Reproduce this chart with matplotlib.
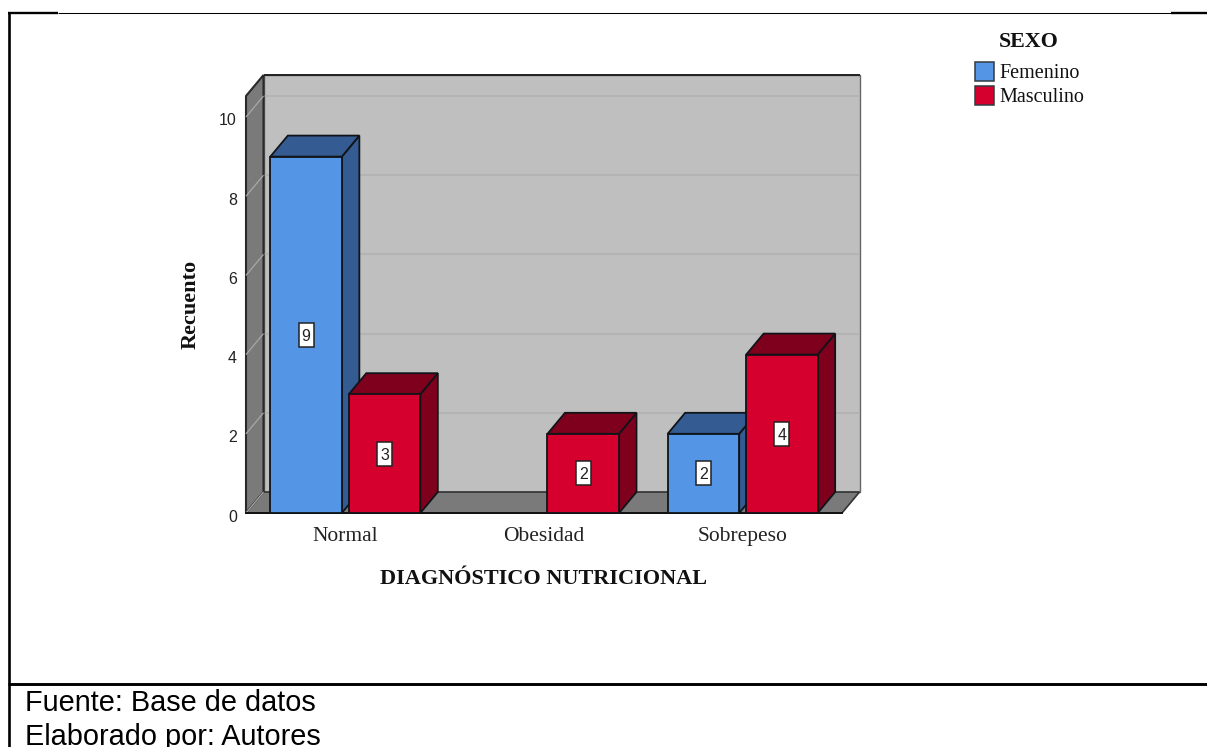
import matplotlib
matplotlib.use("Agg")
import matplotlib.pyplot as plt
from matplotlib.patches import Polygon, Rectangle
from matplotlib.lines import Line2D
from matplotlib.transforms import Affine2D

# Data
categories = ["Normal", "Obesidad", "Sobrepeso"]
femenino = [9, 0, 2]
masculino = [3, 2, 4]
y_ticks = [0, 2, 4, 6, 8, 10]
legend_labels = ["Femenino", "Masculino"]

W, H = 1207, 747
SERIF = "Liberation Serif"
SANS = "Liberation Sans"
BLUE, BLUE_DK = "#5495e6", "#345c92"
RED, RED_DK = "#d6002f", "#7e001c"
EDGE = "#101418"

fig = plt.figure(figsize=(W / 100, H / 100), dpi=100, facecolor="white")

# Plot box of the front plane, in figure pixels
left, right, top, bottom = 246, 842, 96, 513
ax = fig.add_axes([left / W, 1 - bottom / H, (right - left) / W, (bottom - top) / H])
ax.set_xlim(-0.5, 2.5)
ax.set_ylim(0, (bottom - top) / 39.6)
ax.axis("off")

DX, DY = 17.5, 21.0   # depth offset of the box, in pixels
back = ax.transData + Affine2D().translate(DX, DY)
x0, x1 = ax.get_xlim()
y0, y1 = ax.get_ylim()


def poly(points, color, edge=EDGE, lw=1.2, z=1):
    """Add a polygon given as (x, y, is_back) corners."""
    verts = [(back if b else ax.transData).transform((x, y)) for x, y, b in points]
    ax.add_patch(Polygon(verts, closed=True, transform=None, facecolor=color,
                         edgecolor=edge, linewidth=lw, clip_on=False, zorder=z,
                         joinstyle="miter"))


def seg(p0, p1, color, lw, z):
    ax.add_line(Line2D([p0[0], p1[0]], [p0[1], p1[1]], transform=None, color=color, lw=lw,
                       zorder=z, clip_on=False, solid_capstyle="butt"))


# Walls and floor
poly([(x0, y0, 1), (x1, y0, 1), (x1, y1, 1), (x0, y1, 1)], "#bfbfbf", edge="#666666", lw=1.0, z=1)
seg(back.transform((x0, y1)), back.transform((x1, y1)), "#222222", 1.4, 1.6)

# Gridlines on the back wall and side wall
for v in y_ticks[1:]:
    seg(back.transform((x0, v)), back.transform((x1, v)), "#b0b0b0", 1.1, 1.5)

poly([(x0, y0, 0), (x0, y0, 1), (x0, y1, 1), (x0, y1, 0)], "#7a7a7a", edge="#2a2a2a", lw=1.5, z=2)
poly([(x0, y0, 0), (x1, y0, 0), (x1, y0, 1), (x0, y0, 1)], "#7a7a7a", edge="#333333", z=2)
for v in y_ticks:
    seg(ax.transData.transform((x0, v)), back.transform((x0, v)), "#a8a8a8", 0.9, 2.5)

# Bars with their side and top faces and value labels
OFFSET, WIDTH = 0.1975, 0.36
for series, sign, face, dark in ((femenino, -1, BLUE, BLUE_DK), (masculino, 1, RED, RED_DK)):
    for i, value in enumerate(series):
        if value == 0:
            continue
        xa = i + sign * OFFSET - WIDTH / 2
        xb = i + sign * OFFSET + WIDTH / 2
        z = 3 + i + (sign + 1) * 0.2
        poly([(xb, 0, 0), (xb, 0, 1), (xb, value, 1), (xb, value, 0)], dark, lw=1.3, z=z)
        poly([(xa, value, 0), (xb, value, 0), (xb, value, 1), (xa, value, 1)], dark, lw=1.3, z=z)
        poly([(xa, 0, 0), (xb, 0, 0), (xb, value, 0), (xa, value, 0)], face, lw=1.3, z=z + 0.1)
        cx, cy = ax.transData.transform(((xa + xb) / 2, value / 2))
        ax.add_patch(Rectangle((cx - 7.5, cy - 12), 15, 24, transform=None, facecolor="white",
                               edgecolor="#222222", linewidth=1.1, clip_on=False, zorder=z + 0.2))
        ax.text((xa + xb) / 2, value / 2, str(value), ha="center", va="center_baseline",
                family=SANS, fontsize=11.5, color="#222222", zorder=z + 0.3, clip_on=False)

# Floor front edge
ax.plot([x0, x1], [y0, y0], color="#111111", lw=1.4, zorder=2.8, clip_on=False)

# Axis tick labels
for v in y_ticks:
    px = ax.transData.transform((x0, v))
    ax.annotate(str(v), xy=(px[0], px[1]), xycoords="figure pixels", xytext=(-9, -2.5),
                textcoords="offset pixels", ha="right", va="center_baseline",
                family=SANS, fontsize=11.5, color="#222222", annotation_clip=False)
for i, name in enumerate(categories):
    px = ax.transData.transform((i, 0))
    ax.annotate(name, xy=(px[0], px[1]), xycoords="figure pixels", xytext=(0, -28),
                textcoords="offset pixels", ha="center", va="baseline",
                family=SERIF, fontsize=15.5, color="#222222", annotation_clip=False)


def put(x, y, s, **kw):
    fig.text(x / W, 1 - y / H, s, **kw)


# Axis titles
put(191, 304.5, "Recuento", rotation=90, ha="center", va="center", family=SERIF,
    fontsize=16, fontweight="bold", color="#111111")
put(543, 584, "DIAGNÓSTICO NUTRICIONAL", ha="center", va="baseline", family=SERIF,
    fontsize=16, fontweight="bold", color="#111111")

# Legend
put(1029, 47, "SEXO", ha="center", va="baseline", family=SERIF, fontsize=15.8,
    fontweight="bold", color="#111111")
for label, face, y in zip(legend_labels, (BLUE, RED), (71, 95)):
    fig.add_artist(Rectangle((975 / W, 1 - (y + 9.5) / H), 19 / W, 19 / H, transform=fig.transFigure,
                             facecolor=face, edgecolor="#333b44", linewidth=1.1))
    put(999, y + 7.5, label, ha="left", va="baseline", family=SERIF, fontsize=14.5, color="#111111")


def rule(xa, ya, xb, yb, lw):
    fig.add_artist(Line2D([xa / W, xb / W], [1 - ya / H, 1 - yb / H], transform=fig.transFigure,
                          color="black", lw=lw, solid_capstyle="butt"))


# Table rules around the chart
rule(8, 13.2, 58, 13.2, 1.7)
rule(58, 12.5, 1171, 12.5, 0.75)
rule(1171, 13.2, 1207, 13.2, 1.7)
rule(9.3, 12, 9.3, 747, 1.9)
rule(8, 684, 1207, 684, 2.1)

# Source notes
put(25, 711, "Fuente: Base de datos", ha="left", va="baseline", family=SANS, fontsize=20.8, color="black")
put(25, 745, "Elaborado por: Autores", ha="left", va="baseline", family=SANS, fontsize=20.8, color="black")

fig.savefig("out.png", dpi=100)
